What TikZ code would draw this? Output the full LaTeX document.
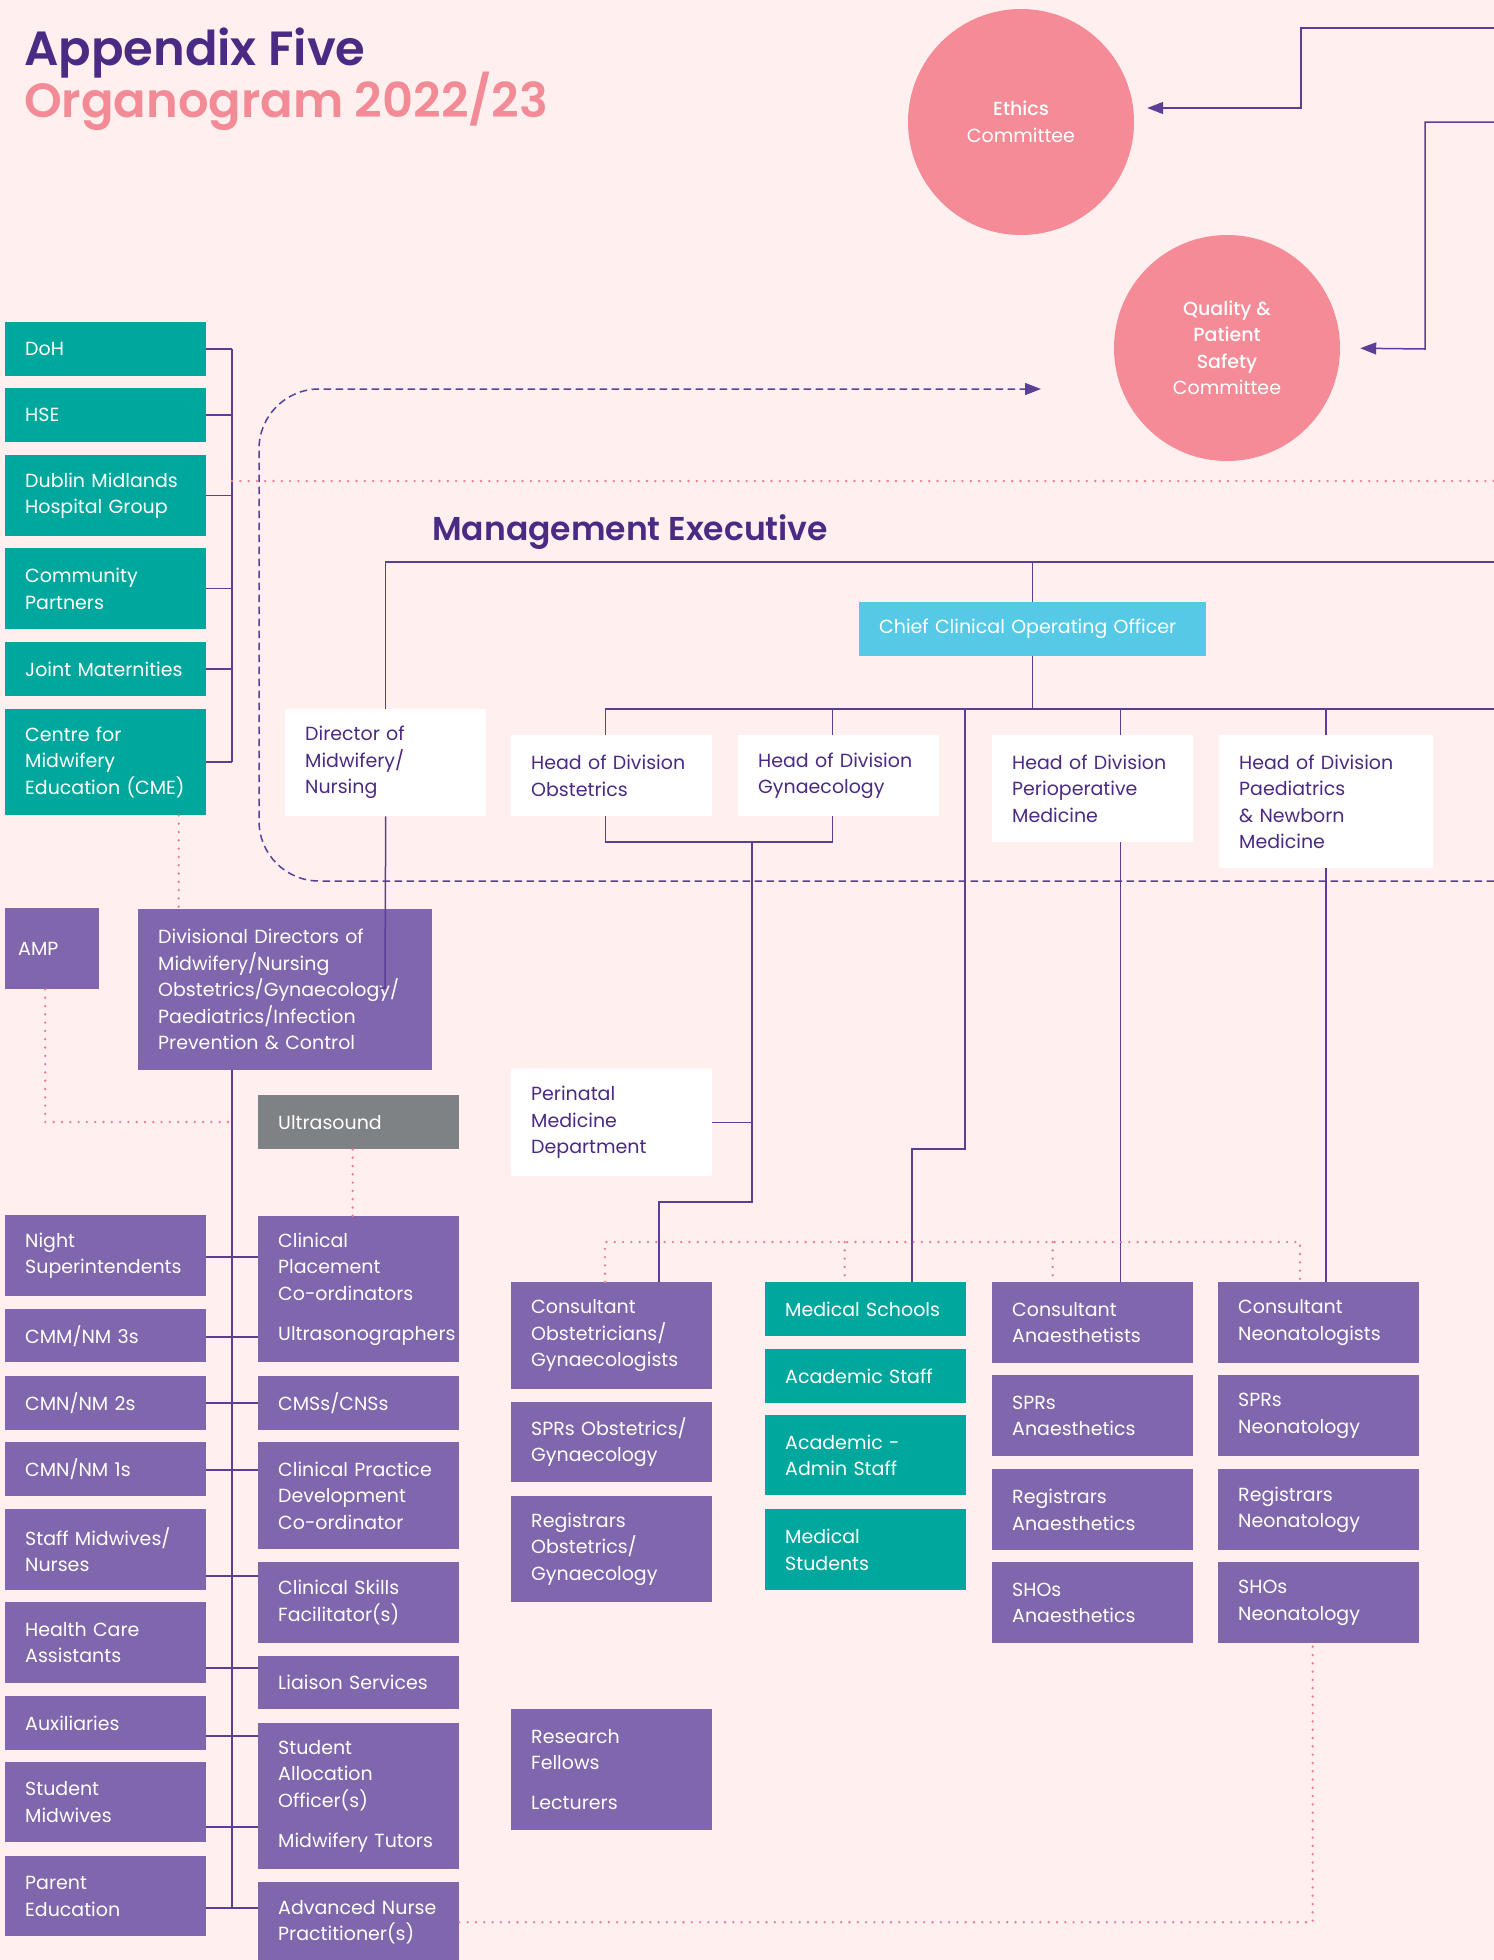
\documentclass[tikz,border=0pt]{standalone}
\usepackage{fontspec}
\setmainfont{Poppins}[BoldFont={* SemiBold}]
\newfontfamily\medfont{Poppins}[UprightFont={* Medium}]
\usetikzlibrary{arrows.meta,positioning,calc}
\definecolor{PageBg}{RGB}{255,240,239}
\definecolor{TealBox}{RGB}{0,167,157}
\definecolor{VioletBox}{RGB}{128,102,173}
\definecolor{DeepPurple}{RGB}{75,42,132}
\definecolor{LinePurple}{RGB}{91,62,150}
\definecolor{CommitteePink}{RGB}{244,139,150}
\definecolor{TitlePink}{RGB}{243,139,150}
\definecolor{CyanBox}{RGB}{85,201,230}
\definecolor{GreyBox}{RGB}{126,130,132}
\definecolor{DotPink}{RGB}{242,123,139}
\hyphenpenalty=10000
\newcommand\boxfont{\fontsize{19}{26.5}\selectfont}

\tikzset{
  box/.style={rectangle, anchor=north west, inner xsep=20pt, inner ysep=0pt,
    text width=161pt, minimum height=54pt, align=left, font=\boxfont,
    execute at begin node={\rightskip=-20pt plus 1fil\relax}},
  tealbox/.style={box, fill=TealBox, text=white},
  violetbox/.style={box, fill=VioletBox, text=white},
  whitebox/.style={box, fill=white, text=DeepPurple},
  greybox/.style={box, fill=GreyBox, text=white},
  cyanbox/.style={box, fill=CyanBox, text=white},
  committee/.style={circle, minimum size=226pt, inner sep=0pt, fill=CommitteePink,
    text=white, align=center, font=\boxfont},
  orgline/.style={draw=LinePurple, line width=1.5pt},
  linkarrow/.style={orgline, -{Triangle[length=16pt,width=12pt]}},
  dashlink/.style={orgline, dash pattern=on 7.5pt off 4.5pt, -{Triangle[length=16pt,width=12pt]}},
  dotlink/.style={draw=DotPink, line width=2.6pt, line cap=round, dash pattern=on 0pt off 8.3pt}
}

\begin{document}
\begin{tikzpicture}[x=1pt, y=-1pt]
  \useasboundingbox (0,0) rectangle (1494,1960);
  \fill[PageBg] (0,0) rectangle (1494,1960);

  % Title
  \node[anchor=base west, inner sep=0pt, text=DeepPurple, font=\fontsize{48}{52}\selectfont\bfseries]
    (apxtitle) at (24,65) {Appendix Five};
  \node[anchor=base west, inner sep=0pt, text=TitlePink, font=\fontsize{48}{52}\selectfont\bfseries]
    (orgtitle) at (24,117) {Organogram 2022/23};

  % Committees
  \node[committee] (ethics) at (1021,122) {{\medfont Ethics}\\Committee};
  \node[committee] (quality) at (1227,348) {{\medfont Quality \&}\\{\medfont Patient}\\{\medfont Safety}\\Committee};

  % External bodies
  \node[tealbox] (doh) at (5,322) {DoH};
  \node[tealbox] (hse) at (5,388) {HSE};
  \node[tealbox, minimum height=81pt] (dmhg) at (5,455) {Dublin Midlands\\Hospital Group};
  \node[tealbox, minimum height=81pt] (comm) at (5,548) {Community\\Partners};
  \node[tealbox] (joint) at (5,642) {Joint Maternities};
  \node[tealbox, minimum height=106pt] (cme) at (5,709) {Centre for\\Midwifery\\Education (CME)};

  % Management Executive
  \node[anchor=base west, inner sep=0pt, text=DeepPurple, font=\fontsize{33}{38}\selectfont\bfseries]
    (mgmttitle) at (432,540) {Management Executive};
  \node[cyanbox, text width=307pt] (chief) at (859,602) {Chief Clinical Operating Officer};
  \node[whitebox, minimum height=107pt] (director) at (285,709) {Director of\\Midwifery/\\Nursing};
  \node[whitebox, minimum height=81pt] (obst) at (511,735) {Head of Division\\Obstetrics};
  \node[whitebox, minimum height=81pt] (gyn) at (738,735) {Head of Division\\Gynaecology};
  \node[whitebox, minimum height=107pt] (periop) at (992,735) {Head of Division\\Perioperative\\Medicine};
  \node[whitebox, text width=174pt, minimum height=133pt] (paed) at (1219,735)
    {Head of Division\\Paediatrics\\\& Newborn\\Medicine};

  % Midwifery / nursing
  \node[violetbox, inner xsep=13pt, text width=68pt, minimum height=81pt] (amp) at (5,908) {AMP};
  \node[violetbox, text width=254pt, minimum height=161pt] (divdir) at (138,909)
    {Divisional Directors of\\Midwifery/Nursing\\Obstetrics/Gynaecology/\\Paediatrics/Infection\\Prevention \& Control};
  \node[greybox] (ultra) at (258,1095) {Ultrasound};
  \node[violetbox, minimum height=81pt] (night) at (5,1215) {Night\\Superintendents};
  \node[violetbox, minimum height=146pt] (cpc) at (258,1216)
    {Clinical\\Placement\\Co-ordinators\\[13.5pt]Ultrasonographers};
  \node[violetbox, minimum height=53pt] (cmm3) at (5,1309) {CMM/NM 3s};
  \node[violetbox] (cmn2) at (5,1376) {CMN/NM 2s};
  \node[violetbox] (cmss) at (258,1376) {CMSs/CNSs};
  \node[violetbox] (cmn1) at (5,1442) {CMN/NM 1s};
  \node[violetbox, minimum height=107pt] (cpd) at (258,1442) {Clinical Practice\\Development\\Co-ordinator};
  \node[violetbox, minimum height=81pt] (staff) at (5,1509) {Staff Midwives/\\Nurses};
  \node[violetbox, minimum height=81pt] (cskills) at (258,1562) {Clinical Skills\\Facilitator(s)};
  \node[violetbox, minimum height=81pt] (hca) at (5,1602) {Health Care\\Assistants};
  \node[violetbox, minimum height=53pt] (liaison) at (258,1656) {Liaison Services};
  \node[violetbox] (aux) at (5,1696) {Auxiliaries};
  \node[violetbox, minimum height=146pt] (sao) at (258,1723)
    {Student\\Allocation\\Officer(s)\\[13.5pt]Midwifery Tutors};
  \node[violetbox, minimum height=80pt] (smid) at (5,1762) {Student\\Midwives};
  \node[violetbox, minimum height=80pt] (parent) at (5,1856) {Parent\\Education};
  \node[violetbox, minimum height=80pt] (anp) at (258,1882) {Advanced Nurse\\Practitioner(s)};

  % Obstetrics / gynaecology
  \node[whitebox, minimum height=107pt] (perinatal) at (511,1069) {Perinatal\\Medicine\\Department};
  \node[violetbox, minimum height=107pt] (consobs) at (511,1282) {Consultant\\Obstetricians/\\Gynaecologists};
  \node[violetbox, minimum height=80pt] (sprobs) at (511,1402) {SPRs Obstetrics/\\Gynaecology};
  \node[violetbox, minimum height=106pt] (regobs) at (511,1496) {Registrars\\Obstetrics/\\Gynaecology};
  \node[violetbox, minimum height=121pt] (research) at (511,1709) {Research\\Fellows\\[13.5pt]Lecturers};

  % Academic
  \node[tealbox] (medsch) at (765,1282) {Medical Schools};
  \node[tealbox] (acstaff) at (765,1349) {Academic Staff};
  \node[tealbox, minimum height=80pt] (acadmin) at (765,1415) {Academic -\\Admin Staff};
  \node[tealbox, minimum height=81pt] (medstu) at (765,1509) {Medical\\Students};

  % Anaesthetics and neonatology
  \node[violetbox, minimum height=81pt] (consan) at (992,1282) {Consultant\\Anaesthetists};
  \node[violetbox, minimum height=81pt] (spran) at (992,1375) {SPRs\\Anaesthetics};
  \node[violetbox, minimum height=81pt] (regan) at (992,1469) {Registrars\\Anaesthetics};
  \node[violetbox, minimum height=81pt] (shoan) at (992,1562) {SHOs\\Anaesthetics};
  \node[violetbox, minimum height=81pt] (consneo) at (1218,1282) {Consultant\\Neonatologists};
  \node[violetbox, minimum height=81pt] (sprneo) at (1218,1375) {SPRs\\Neonatology};
  \node[violetbox, minimum height=81pt] (regneo) at (1218,1469) {Registrars\\Neonatology};
  \node[violetbox, minimum height=81pt] (shoneo) at (1218,1562) {SHOs\\Neonatology};

  % Bus coordinates
  \coordinate (extbus) at (232,0);
  \coordinate (govedge) at (1494,481);
  \coordinate (ethedge) at (1494,28);
  \coordinate (ethbend) at (1301,108);
  \coordinate (qpsedge) at (1494,122);
  \coordinate (qpsbend) at (1425,349);
  \coordinate (dashedge) at (1494,881);
  \coordinate (dashcorner) at (259,389);
  \coordinate (qpsarrow) at (1041,389);
  \coordinate (mgmtedge) at (1494,562);
  \coordinate (divedge) at (1494,709);
  \coordinate (obgyn) at (752,842);
  \coordinate (obsbend) at (659,1202);
  \coordinate (medtop) at (965,709);
  \coordinate (medbend) at (912,1149);
  \coordinate (dirend) at (385,988);
  \coordinate (staffbus) at (232,1908);
  \coordinate (acadl) at (605,1242);
  \coordinate (acadr) at (1300,1242);

  % External bodies bracket
  \foreach \n in {doh,hse,dmhg,comm,joint,cme}
    \draw[orgline] (\n.east) -- (\n.east -| extbus);
  \draw[orgline] (doh.east -| extbus) -- (cme.east -| extbus);
  \draw[dotlink] (govedge -| extbus) -- (govedge);

  % Links to committees
  \draw[linkarrow, shorten >=13pt] (ethedge) -| (ethbend) -- (ethbend -| ethics.east);
  \draw[linkarrow, shorten >=20pt] (qpsedge) -| (qpsbend) -- (quality.east);
  \draw[dashlink, rounded corners=60pt] (dashedge) -| (dashcorner) -- (qpsarrow);

  % Management lines
  \draw[orgline] (director.north) |- (mgmtedge);
  \draw[orgline] (chief.north) -- (chief.north |- mgmtedge);
  \draw[orgline] (chief.south) -- (chief.south |- divedge);
  \draw[orgline] ([xshift=-6pt]obst.north) |- (divedge);
  \draw[orgline] ([xshift=-6pt]gyn.north) -- ([xshift=-6pt]gyn.north |- divedge);
  \draw[orgline] ([xshift=28pt]periop.north) -- ([xshift=28pt]periop.north |- divedge);
  \draw[orgline] (paed.north) -- (paed.north |- divedge);

  % Obstetrics / gynaecology lines
  \draw[orgline] ([xshift=-6pt]obst.south) |- (obgyn) -| ([xshift=-6pt]gyn.south);
  \draw[orgline] (obgyn) |- (obsbend) -- (obsbend |- consobs.north);
  \draw[orgline] (perinatal.east) -- (perinatal.east -| obgyn);
  \draw[orgline] (medtop) |- (medbend) -- (medbend |- medsch.north);
  \draw[orgline] ([xshift=28pt]periop.south) -- ([xshift=28pt]periop.south |- consan.north);
  \draw[orgline] (paed.south) -- (paed.south |- consneo.north);

  % Midwifery / nursing lines
  \draw[orgline] (director.south) -- (dirend) -- ++(-5,0);
  \draw[orgline] (divdir.south -| staffbus) -- (staffbus);
  \foreach \l/\r/\yy in {night/cpc/1257, cmm3/cpc/1337, cmn2/cmss/1403, cmn1/cpd/1470,
      staff/cskills/1576, hca/liaison/1668, aux/sao/1736, smid/sao/1827, parent/anp/1908}
    \draw[orgline] (\l.east |- 0,\yy) -- (\r.west |- 0,\yy);

  % Dotted links
  \draw[dotlink] ([xshift=-7pt]amp.south) |- (staffbus |- 0,1122);
  \draw[dotlink] ([xshift=73pt]cme.south) -- ([xshift=73pt]cme.south |- divdir.north);
  \draw[dotlink] ([xshift=-6pt]ultra.south) -- ([xshift=-6pt]ultra.south |- cpc.north);
  \draw[dotlink] (acadl |- consobs.north) -- (acadl) -- (acadr) -- (acadr |- consneo.north);
  \draw[dotlink] ([xshift=-21pt]medsch.north |- acadl) -- ([xshift=-21pt]medsch.north);
  \draw[dotlink] ([xshift=-40pt]consan.north |- acadl) -- ([xshift=-40pt]consan.north);
  \draw[dotlink] (anp.east) -| ([xshift=-6pt]shoneo.south);
\end{tikzpicture}
\end{document}
